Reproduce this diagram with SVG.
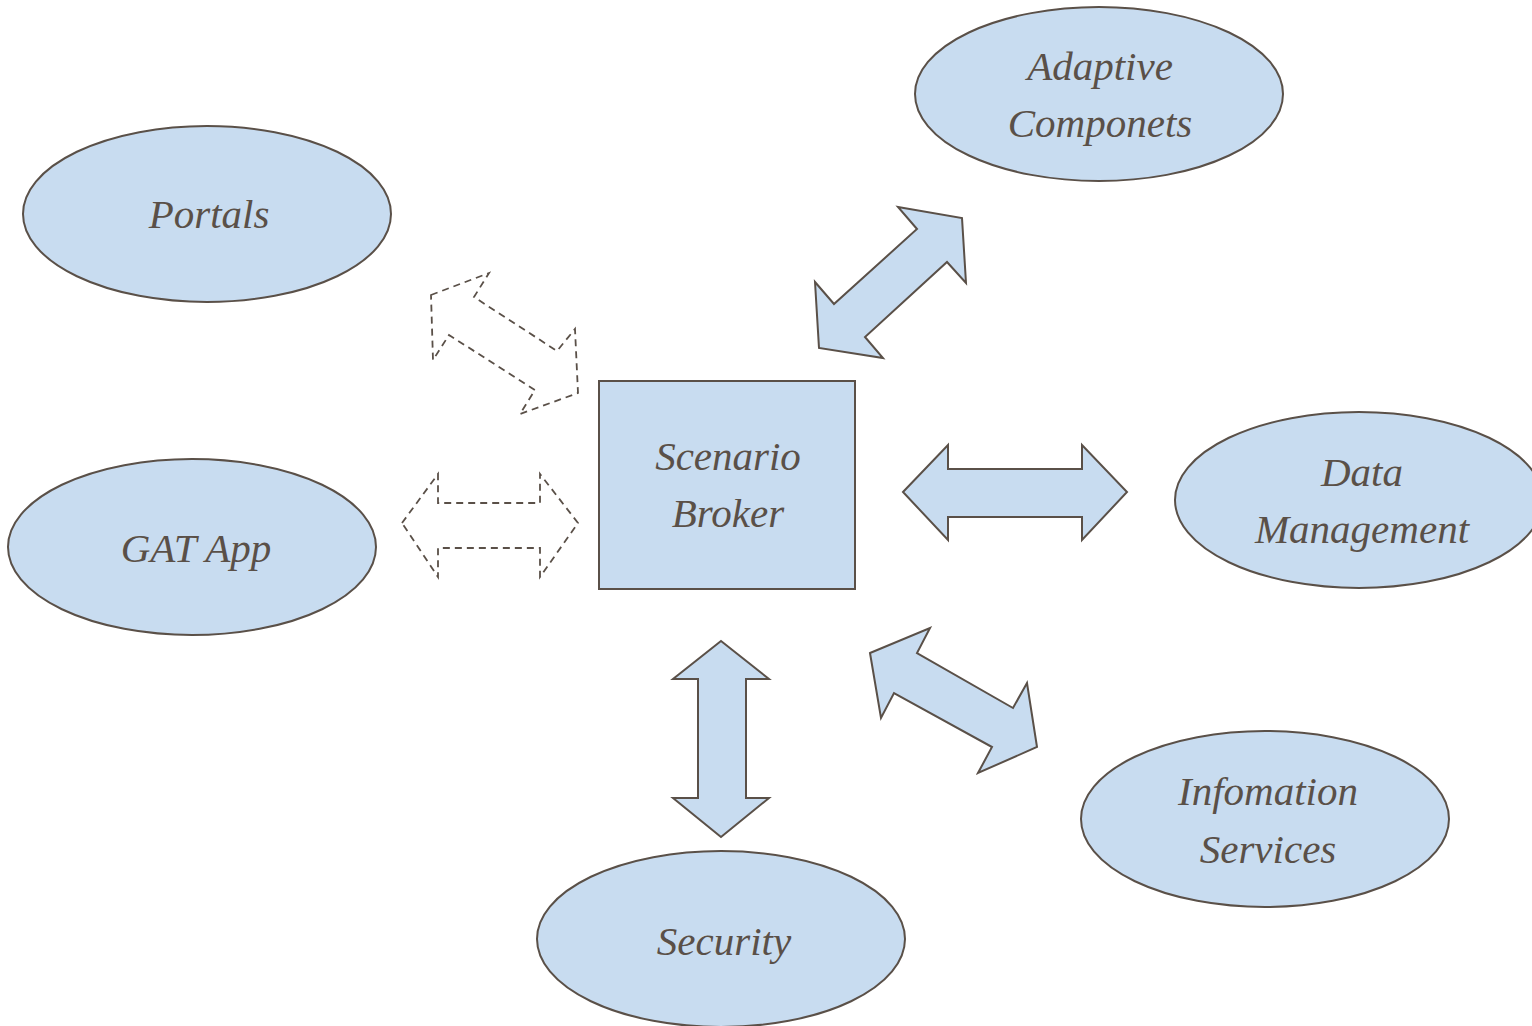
<svg xmlns="http://www.w3.org/2000/svg" width="1532" height="1026" viewBox="0 0 1532 1026">
<style>
.shape{fill:#c8dcf0;stroke:#5a5048;stroke-width:2}
.dash{fill:none;stroke:#5a5048;stroke-width:1.8;stroke-dasharray:7 5}
.lbl{font-family:"Liberation Serif",serif;font-style:italic;font-size:41px;fill:#5a5048;text-anchor:middle}
</style>
<rect width="1532" height="1026" fill="#ffffff"/>
<g id="connectors">
<polygon class="dash" points="431,295 489,273 474,297 557,351 575,329 578,393 520,414 535,390 449,335 433,360"/>
<polygon class="dash" points="402,523 438,474 438,503 540,503 540,474 578,523 540,577 540,548 438,548 438,577"/>
<polygon class="shape" points="898,207 962,218 966,283 947,262 865,337 883,358 819,348 815,282 834,304 917,229"/>
<polygon class="shape" points="903,492 948,445 948,469 1082,469 1082,445 1127,492 1082,540 1082,517 948,517 948,540"/>
<polygon class="shape" points="870,653 930,628 917,653 1013,708 1027,683 1037,747 978,773 992,747 894,693 881,718"/>
<polygon class="shape" points="721,641 769,679 746,679 746,798 769,798 721,837 673,798 698,798 698,679 673,679"/>
</g>
<g id="broker">
<rect class="shape" x="599" y="381" width="256" height="208"/>
<text class="lbl" x="728" y="470">Scenario</text>
<text class="lbl" x="728" y="527">Broker</text>
</g>
<g id="adaptive">
<ellipse class="shape" cx="1099" cy="94" rx="184" ry="87"/>
<text class="lbl" x="1100" y="80">Adaptive</text>
<text class="lbl" x="1100" y="137">Componets</text>
</g>
<g id="portals">
<ellipse class="shape" cx="207" cy="214" rx="184" ry="88"/>
<text class="lbl" x="209" y="228">Portals</text>
</g>
<g id="gat">
<ellipse class="shape" cx="192" cy="547" rx="184" ry="88"/>
<text class="lbl" x="196" y="562">GAT App</text>
</g>
<g id="data">
<ellipse class="shape" cx="1359" cy="500" rx="184" ry="88"/>
<text class="lbl" x="1362" y="486">Data</text>
<text class="lbl" x="1362" y="543">Management</text>
</g>
<g id="info">
<ellipse class="shape" cx="1265" cy="819" rx="184" ry="88"/>
<text class="lbl" x="1268" y="805">Infomation</text>
<text class="lbl" x="1268" y="863">Services</text>
</g>
<g id="security">
<ellipse class="shape" cx="721" cy="939" rx="184" ry="88"/>
<text class="lbl" x="724" y="955">Security</text>
</g>
</svg>
